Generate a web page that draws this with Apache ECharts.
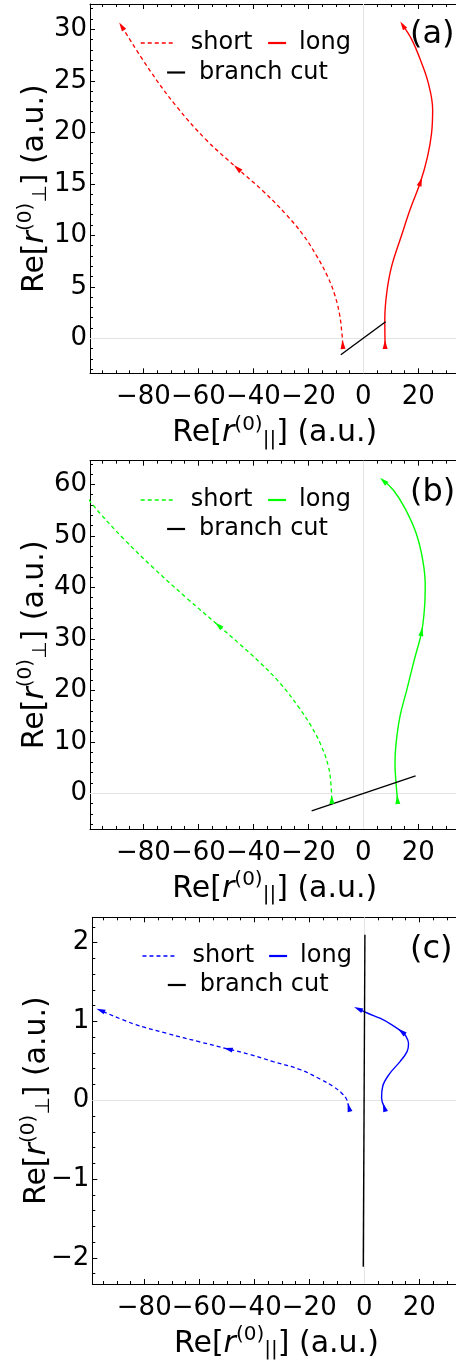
<!DOCTYPE html>
<html>
<head>
<meta charset="utf-8">
<script src="https://cdn.jsdelivr.net/npm/echarts@6/dist/echarts.min.js"></script>
<style>
  html, body { margin: 0; padding: 0; background: #fff; }
  #main { width: 456px; height: 1366px; }
</style>
</head>
<body>
<div id="main"></div>
<script>
// tick labels
var xMajor = [-80, -60, -40, -20, 0, 20];
var yMajorA = [0, 5, 10, 15, 20, 25, 30];
var yMajorB = [0, 10, 20, 30, 40, 50, 60];
var yMajorC = [-2, -1, 0, 1, 2];

// (a) trajectories, [Re r_par, Re r_perp]
var shortA = [[-7.5, -0.6], [-7.8, 0.5], [-8.7, 2.4], [-10.5, 4.3], [-13.0, 6.0], [-17.0, 8.0], [-21.8, 10.0],
  [-28.0, 12.0], [-36.5, 14.3], [-45.8, 16.5], [-56.9, 19.2], [-67.9, 22.5], [-77.6, 26.0], [-87.9, 30.3]];
var longA = [[7.9, -0.6], [7.8, 1.8], [8.5, 4.4], [10.3, 7.0], [13.9, 10.0], [17.0, 12.5], [20.8, 15.2],
  [23.3, 17.6], [24.8, 19.9], [25.2, 22.2], [23.6, 24.8], [20.8, 27.0], [17.6, 29.0], [14.3, 30.4]];
var cutA = [[-8.2, -1.6], [8.1, 1.6]];
var arrowsShortA = [0, 9, 13];
var arrowsLongA = [0, 6, 13];

// (b)
var shortB = [[-11.5, -1.2], [-11.8, 1.9], [-12.7, 5.2], [-15.2, 9.1], [-18.8, 12.9], [-23.6, 16.8], [-30.3, 21.4],
  [-37.6, 25.4], [-44.8, 28.9], [-52.7, 32.6], [-64.2, 37.9], [-76.4, 43.8], [-87.3, 49.5], [-95.8, 54.4], [-100.5, 57.5]];
var longB = [[12.4, -1.2], [11.9, 1.9], [11.5, 5.8], [11.9, 9.7], [13.3, 14.9], [15.8, 20.1], [18.5, 25.9],
  [21.2, 31.4], [22.3, 36.5], [22.5, 40.5], [21.6, 45.3], [19.2, 50.5], [15.2, 55.3], [10.9, 58.9], [7.3, 60.7]];
var cutB = [[-18.8, -3.4], [19.0, 3.4]];
var arrowsShortB = [0, 9];
var arrowsLongB = [0, 7, 14];

// (c)
var shortC = [[-5.6, -0.09], [-6.4, 0.01], [-8.2, 0.09], [-11.3, 0.175], [-16.1, 0.27], [-23.4, 0.39], [-33.1, 0.49],
  [-41.6, 0.58], [-49.5, 0.65], [-59.8, 0.74], [-71.9, 0.85], [-84.0, 0.97], [-95.9, 1.14]];
var longC = [[7.3, -0.09], [6.3, 0.03], [6.7, 0.175], [9.3, 0.34], [13.0, 0.49], [15.6, 0.62], [16.1, 0.72],
  [15.2, 0.81], [13.6, 0.87], [9.9, 0.96], [5.7, 1.04], [1.5, 1.10], [-2.2, 1.16]];
var cutC = [[-0.36, -2.11], [0.24, 2.10]];
var arrowsShortC = [0, 8, 12];
var arrowsLongC = [0, 8, 12];

var FONT = 'DejaVu Sans';
var X_MAX = 35;

function range(a, b, step, skip) {
  var out = [];
  for (var v = a; v <= b + 1e-9; v += step) {
    var r = Math.round(v * 100) / 100;
    if (Math.abs(r / skip - Math.round(r / skip)) > 1e-6) out.push(r);
  }
  return out;
}
var xMinor = range(-95, 30, 5, 20);

var panels = [
  { left: 90, top: 4, width: 369.6, height: 369.3, xMin: -99.4, yMin: -3.4, yMax: 32.46,
    yMajor: yMajorA, yMinor: range(-3, 32, 1, 5), color: '#ff0000', tag: '(a)', key: 'a',
    short: shortA, long: longA, cut: cutA, aShort: arrowsShortA, aLong: arrowsLongA,
    rows: [44, 73.5], lx: [140, 267, 166], tagTop: 19 },
  { left: 90, top: 460.7, width: 369.6, height: 368.3, xMin: -99.4, yMin: -6.93, yMax: 64.6,
    yMajor: yMajorB, yMinor: range(-6, 64, 2, 10), color: '#00ff00', tag: '(b)', key: 'b',
    short: shortB, long: longB, cut: cutB, aShort: arrowsShortB, aLong: arrowsLongB,
    rows: [501, 530], lx: [140, 267, 166], tagTop: 477 },
  { left: 92.3, top: 917.3, width: 368.2, height: 366.7, xMin: -98.9, yMin: -2.33, yMax: 2.32,
    yMajor: yMajorC, yMinor: range(-2.2, 2.2, 0.2, 1), color: '#0000ff', tag: '(c)', key: 'c',
    short: shortC, long: longC, cut: cutC, aShort: arrowsShortC, aLong: arrowsLongC,
    rows: [957, 986], lx: [141.7, 268, 166.7], tagTop: 934 }
];

function fmt(v) { return String(v).replace('-', '\u2212'); }

var richName = {
  n: { fontSize: 30, fontFamily: FONT, color: '#000' },
  i: { fontSize: 30, fontFamily: FONT, fontStyle: 'italic', color: '#000' },
  sup: { fontSize: 20, fontFamily: FONT, color: '#000', padding: [0, 0, 18, 0] },
  sub: { fontSize: 20, fontFamily: FONT, color: '#000', padding: [12, 0, 0, 0] }
};

function tickAxis(base, pos, values, len, showLine) {
  return Object.assign({}, base, {
    position: pos,
    axisLine: { show: showLine, onZero: false, lineStyle: { color: '#000', width: 1 } },
    axisTick: { show: true, inside: true, length: len, customValues: values, lineStyle: { color: '#000', width: 1 } },
    axisLabel: { show: false },
    splitLine: { show: false }
  });
}

var grid = [], xAxis = [], yAxis = [], series = [], legend = [], title = [];

panels.forEach(function (p, i) {
  grid.push({ left: p.left, top: p.top, width: p.width, height: p.height, outerBoundsMode: 'none' });

  var xb = { gridIndex: i, type: 'value', min: p.xMin, max: X_MAX };
  var main = tickAxis(xb, 'bottom', xMajor, 5, true);
  main.axisLabel = { show: true, customValues: xMajor, formatter: fmt, fontSize: 26, fontFamily: FONT, color: '#000', margin: 11 };
  main.name = '{n|Re[}{i|r}{sup|(0)}{sub|||}{n|] (a.u.)}';
  main.nameLocation = 'middle';
  main.nameGap = 41;
  main.nameMoveOverlap = false;
  main.nameTextStyle = { rich: richName };
  xAxis.push(main);
  xAxis.push(tickAxis(xb, 'bottom', xMinor, 3, false));
  xAxis.push(tickAxis(xb, 'top', xMajor, 5, true));
  xAxis.push(tickAxis(xb, 'top', xMinor, 3, false));

  var yb = { gridIndex: i, type: 'value', min: p.yMin, max: p.yMax };
  var ym = tickAxis(yb, 'left', p.yMajor, 5, true);
  ym.axisLabel = { show: true, customValues: p.yMajor, formatter: fmt, fontSize: 26, fontFamily: FONT, color: '#000', margin: 3 };
  ym.name = '{n|Re[}{i|r}{sup|(0)}{sub|\u22A5}{n|] (a.u.)}';
  ym.nameLocation = 'middle';
  ym.nameRotate = 90;
  ym.nameGap = 36;
  ym.nameMoveOverlap = false;
  ym.nameTextStyle = { rich: richName };
  yAxis.push(ym);
  yAxis.push(tickAxis(yb, 'left', p.yMinor, 3, false));

  var xi = i * 4, yi = i * 2;
  series.push({
    id: 'short' + p.key, name: 'short|' + p.key, type: 'line', xAxisIndex: xi, yAxisIndex: yi,
    data: p.short, smooth: 0.4, symbol: 'none', showSymbol: true, clip: true,
    lineStyle: { color: p.color, width: 1.3, type: [4, 3] }, itemStyle: { color: p.color }
  });
  series.push({
    id: 'long' + p.key, name: 'long|' + p.key, type: 'line', xAxisIndex: xi, yAxisIndex: yi,
    data: p.long, smooth: 0.4, symbol: 'none', showSymbol: true, clip: true,
    lineStyle: { color: p.color, width: 1.4 }, itemStyle: { color: p.color }
  });
  series.push({
    id: 'cut' + p.key, name: 'branch cut|' + p.key, type: 'line', xAxisIndex: xi, yAxisIndex: yi,
    data: p.cut, symbol: 'none', lineStyle: { color: '#000', width: 1.4 }, itemStyle: { color: '#000' },
    markLine: {
      silent: true, z: 1, symbol: 'none', label: { show: false },
      lineStyle: { color: '#e3e3e3', type: 'solid', width: 1 },
      data: [{ xAxis: 0 }, { yAxis: 0 }]
    }
  });

  var names = ['short|' + p.key, 'long|' + p.key, 'branch cut|' + p.key];
  var widths = [35, 18, 18];
  var gaps = [10, 8, 9];
  names.forEach(function (nm, k) {
    legend.push({
      data: [nm], left: p.lx[k], top: (k === 2 ? p.rows[1] : p.rows[0]) - 13,
      itemWidth: widths[k], itemHeight: 14, padding: 0, selectedMode: false,
      itemStyle: { opacity: 0 },
      lineStyle: { width: k === 0 ? 1.5 : 2.2 },
      formatter: function (n) { return n.split('|')[0]; },
      textStyle: { fontSize: 24, fontFamily: FONT, color: '#000', padding: [0, 0, 0, gaps[k]] }
    });
  });

  title.push({
    text: p.tag, left: 410, top: p.tagTop, padding: 0,
    textStyle: { fontSize: 32, fontWeight: 'normal', fontFamily: FONT, color: '#000' }
  });
});

var chart = echarts.init(document.getElementById('main'));
chart.setOption({
  animation: false,
  backgroundColor: '#fff',
  textStyle: { fontFamily: FONT },
  title: title, grid: grid, xAxis: xAxis, yAxis: yAxis, legend: legend, series: series
});

// arrowheads: rotate each triangle along the local direction of its curve
function withArrows(pts, arrows, i) {
  var finder = { xAxisIndex: i * 4, yAxisIndex: i * 2 };
  return pts.map(function (pt, k) {
    if (arrows.indexOf(k) < 0) return pt;
    var a = chart.convertToPixel(finder, pts[Math.max(k - 1, 0)]);
    var b = chart.convertToPixel(finder, pts[Math.min(k + 1, pts.length - 1)]);
    var ang = Math.atan2(-(b[0] - a[0]), -(b[1] - a[1])) * 180 / Math.PI;
    return { value: pt, symbol: 'triangle', symbolSize: [5, 9], symbolRotate: ang };
  });
}

var upd = [];
panels.forEach(function (p, i) {
  upd.push({ id: 'short' + p.key, data: withArrows(p.short, p.aShort, i) });
  upd.push({ id: 'long' + p.key, data: withArrows(p.long, p.aLong, i) });
});
chart.setOption({ series: upd });
</script>
</body>
</html>
